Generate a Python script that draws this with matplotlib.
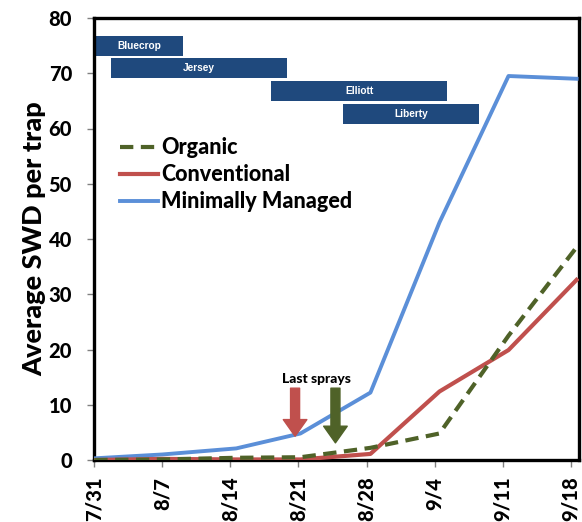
import numpy as np
import matplotlib
matplotlib.use("Agg")
import matplotlib.pyplot as plt

# --- Dados (dias desde 7/31) ---
sample_day = [0, 7, 14.6, 21.2, 28.4, 35.5, 42.6, 49.6]
organic = [0.0, 0.1, 0.4, 0.5, 2.2, 4.8, 22.5, 38.5]
conventional = [0.0, 0.2, 0.1, 0.1, 1.1, 12.4, 19.9, 32.6]
minimally = [0.3, 1.0, 2.1, 4.8, 12.2, 43.0, 69.5, 69.0]

tick_days = [0, 7, 14, 21, 28, 35, 42, 49]
tick_labels = ['7/31', '8/7', '8/14', '8/21', '8/28', '9/4', '9/11', '9/18']

# Períodos de colheita das variedades
varieties = ['Bluecrop', 'Jersey', 'Elliott', 'Liberty']
var_start = [0.07, 1.7, 18.2, 25.6]
var_end = [9.1, 19.8, 36.3, 39.6]
var_level = [74.9, 70.95, 66.85, 62.65]

# Últimas pulverizações (convencional, orgânico)
spray_day = [20.65, 24.8]
spray_tip = [4.3, 3.1]

c_org = '#4F6228'
c_conv = '#C0504D'
c_mm = '#5B8FD8'
c_bar = '#1F497D'

plt.rcParams['font.family'] = ['Lato', 'DejaVu Sans']
W = 'black'  # peso das fontes

fig = plt.figure(figsize=(5.82, 5.22), dpi=100)
ax = fig.add_axes([94.3 / 582, 62 / 522, (579 - 94.3) / 582, (460 - 18) / 522])

ax.plot(sample_day, organic, color=c_org, lw=3, ls=(0, (3.2, 1.8)), label='Organic', zorder=5)
ax.plot(sample_day, conventional, color=c_conv, lw=3, label='Conventional', zorder=4)
ax.plot(sample_day, minimally, color=c_mm, lw=2.8, label='Minimally Managed', zorder=3)

# Barras das variedades
for name, s, e, lvl in zip(varieties, var_start, var_end, var_level):
    ax.barh(lvl, e - s, left=s, height=3.6, color=c_bar, zorder=2)
    ax.text((s + e) / 2, lvl, name, color='white', fontsize=7.3, fontweight='bold',
            family='Liberation Sans', ha='center', va='center', zorder=3)

# Setas "Last sprays"
for d, tip, col in zip(spray_day, spray_tip, [c_conv, c_org]):
    ax.annotate('', xy=(d, tip), xytext=(d, 13.0),
                arrowprops=dict(arrowstyle='simple,head_length=12,head_width=17,tail_width=6.5',
                                mutation_scale=1, color=col, shrinkA=0, shrinkB=0), zorder=6)
ax.text(np.mean(spray_day) + 0.1, 14.6, 'Last sprays', fontsize=10, fontweight=W,
        ha='center', va='center')

ax.set_xlim(0, 49.85)
ax.set_ylim(0, 80)
ax.set_yticks(range(0, 81, 10))
ax.set_xticks(tick_days)
ax.set_xticklabels(tick_labels, rotation=90)
ax.tick_params(axis='both', labelsize=14.5, length=5, width=1, color='#808080', direction='out')
ax.tick_params(axis='y', pad=11)
ax.tick_params(axis='x', pad=7)
for lab in ax.get_xticklabels() + ax.get_yticklabels():
    lab.set_fontweight(W)

for sp in ax.spines.values():
    sp.set_linewidth(2.4)
    sp.set_color('black')

ax.set_ylabel('Average SWD per trap', fontsize=19.5, fontweight=W, labelpad=2)

leg = ax.legend(loc='upper left', bbox_to_anchor=(0.035, 0.75), frameon=False,
                fontsize=15.5, handlelength=1.75, handletextpad=0.15, labelspacing=0.28,
                borderaxespad=0)
for t in leg.get_texts():
    t.set_fontweight(W)

fig.savefig('out.png', dpi=100)
